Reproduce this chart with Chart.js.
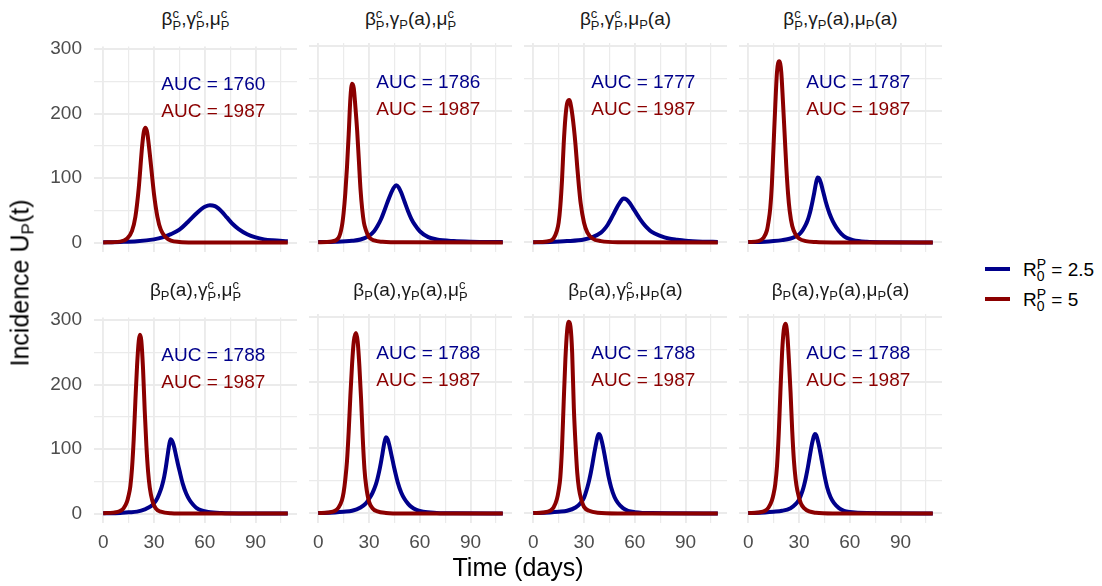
<!DOCTYPE html>
<html>
<head>
<meta charset="utf-8">
<script src="https://cdn.jsdelivr.net/npm/chart.js@4/dist/chart.umd.min.js"></script>
<style>
  body { margin: 0; background: #fff; width: 1102px; height: 586px; position: relative; overflow: hidden;
         font-family: "Liberation Sans", Arial, sans-serif; }
  canvas { position: absolute; }
  .strip { position: absolute; width: 203px; text-align: center; font-size: 19px; line-height: 22px; color: #1a1a1a; white-space: nowrap; }
  .ss { display: inline-block; font-size: 13px; line-height: 12px; vertical-align: -5px; text-align: left; }
  .sb { font-size: 13px; vertical-align: -4px; }
  .axt { position: absolute; font-size: 25px; color: #000; white-space: nowrap; }
  .sw { position: absolute; left: 985px; width: 25px; height: 4px; }
  .lg { position: absolute; left: 1023px; font-size: 19px; line-height: 22px; color: #000; white-space: nowrap; }
</style>
</head>
<body>
<div id="wrap"></div>
<script>
// facet titles: 'c' = constant parameter (sub P, sup c), 'a' = age dependent (sub P + (a))
const greek = ['β', 'γ', 'μ'];
const titleParts = [
  ['c','c','c'], ['c','a','c'], ['c','c','a'], ['c','a','a'],
  ['a','c','c'], ['a','a','c'], ['a','c','a'], ['a','a','a']
];
const aucBlue = [1760, 1786, 1777, 1787, 1788, 1788, 1788, 1788];
const aucRed  = [1987, 1987, 1987, 1987, 1987, 1987, 1987, 1987];

const xTicks = [0, 15, 30, 45, 60, 75, 90, 105];
const xLabels = [0, 30, 60, 90];
const yTicks = [0, 50, 100, 150, 200, 250, 300];
const yLabels = [0, 100, 200, 300];

// incidence curves, [day, value]
const blue1 = [[0,0.5],[10,1],[20,2],[30,5],[35,8],[40,13],[45,20],[50,32],[55,45],[58,52],[60,55.5],[63,58],[66,56.5],[68,53],[70,48],[73,39],[76,30],[80,21],[85,13],[90,8],[95,5],[100,3.5],[109,2]];
const red1  = [[0,0.3],[10,1.5],[14,6],[17,18],[19,40],[21,85],[23,150],[24,172],[25,178],[26,170],[28,125],[30,75],[32,40],[34,20],[37,8],[40,3],[45,1],[55,0.2],[70,0],[109,0]];
const blue2 = [[0,0.5],[10,1],[20,2.5],[25,4.5],[30,10],[33,17],[35,25],[37,35],[39,48],[41,62],[43,75],[44.5,83],[46,87],[47.5,84],[49,76],[51,62],[53,48],[55,36],[57,27],[60,17],[65,8],[70,4.5],[80,2],[90,1],[109,0.5]];
const red2  = [[0,0.3],[8,1.5],[12,7],[14,25],[15,45],[16,75],[17,115],[18,165],[19,220],[20,242],[21,235],[22,205],[23,170],[24,125],[25,80],[26,50],[27,30],[28,20],[30,8],[33,3],[38,1],[50,0.1],[109,0]];
const blue3 = [[0,0.3],[10,0.8],[20,2],[30,4.5],[35,8],[40,15],[42,20],[44,27],[46,36],[48,46],[50,56],[52,64],[53.3,67],[55,65.5],[57,60],[59,52],[61,44],[63,36],[65,29],[67,23],[70,16],[75,10],[80,6],[85,4],[90,2.5],[100,1.2],[109,0.8]];
const red3  = [[0,0.3],[8,1.5],[12,6],[14,18],[15,30],[16,55],[17,95],[18,150],[19,190],[20,212],[21.3,217],[22.5,205],[24,175],[25,148],[26,115],[27,85],[28,60],[30,30],[32,15],[35,6],[40,2],[50,0.3],[109,0]];
const blue4 = [[0,0.5],[10,1],[15,2],[20,3.5],[25,6],[28,9],[30,12],[32,18],[34,27],[35,33],[36,41],[37,51],[38,63],[39,76],[40,90],[41,99],[42,97],[43,90],[44,80],[45,70],[46,60],[48,44],[50,32],[52,23],[55,13],[58,7],[62,3.5],[70,1],[80,0.3],[109,0]];
const red4  = [[0,0.5],[6,2],[9,7],[11,18],[12,32],[13,52],[14,90],[15,150],[16,210],[17,260],[18.3,276],[19.5,260],[20.5,215],[21.5,165],[22.5,115],[23.5,75],[24.5,48],[26,25],[28,12],[30,6],[34,2],[40,0.5],[50,0],[109,0]];
const blue5 = [[0,0.5],[10,1],[15,2],[20,3],[25,7],[28,11],[30,16],[32,24],[34,37],[35,46],[36,57],[37,72],[38,90],[39,107],[39.8,115],[41,111],[42,102],[43,90],[44,78],[45,67],[47,46],[49,31],[51,21],[53,14],[55,9],[58,5],[62,2.5],[70,0.8],[80,0.2],[109,0]];
const red5  = [[0,0.5],[6,1.5],[10,4],[12,8],[14,18],[15,28],[16,42],[17,70],[18,115],[19,175],[20,230],[21,268],[21.7,277],[22.5,268],[23.5,225],[24.5,160],[25.5,105],[26.5,65],[27.5,40],[29,20],[31,8],[34,3],[40,0.5],[50,0],[109,0]];
const blue6 = [[0,0.5],[10,1.5],[15,2.5],[20,4],[25,9],[28,15],[30,22],[32,31],[34,44],[35,53],[36,64],[37,77],[38,92],[39,107],[40,116],[41,113],[42,104],[43,92],[44,80],[45,68],[47,47],[49,32],[51,22],[53,15],[55,10],[58,5.5],[62,2.5],[70,0.8],[80,0.2],[109,0]];
const red6  = [[0,0.5],[6,1.5],[10,4],[12,9],[14,20],[15,32],[16,52],[17,80],[18,125],[19,180],[20,228],[21,262],[22.3,275],[23.3,262],[24.3,225],[25.3,175],[26.3,115],[27.3,68],[28.3,42],[30,18],[32,8],[35,3],[40,0.8],[50,0],[109,0]];
const blue7 = [[0,0.5],[10,1.5],[15,2.5],[20,4],[25,9],[28,16],[30,24],[32,40],[33,50],[34,62],[35,76],[36,91],[37,105],[38,117],[38.7,121],[39.5,119],[40.5,110],[41.5,98],[42.5,84],[43.5,70],[44.5,56],[46,40],[48,25],[50,16],[53,8],[56,4],[60,2],[70,0.5],[109,0]];
const red7  = [[0,0.5],[6,1.5],[10,4],[12,9],[14,22],[15,35],[16,55],[17,100],[18,170],[19,235],[20,278],[21,292],[22,285],[23,245],[24,160],[25,105],[26,62],[27,38],[28.5,20],[30,10],[33,4],[38,1],[50,0],[109,0]];
const blue8 = [[0,0.5],[10,1.5],[15,2.5],[20,4],[25,8],[28,14],[30,21],[32,34],[33,43],[34,54],[35,67],[36,82],[37,97],[38,110],[39.3,121],[40.2,119],[41.2,110],[42.2,98],[43.2,84],[44.2,70],[45.2,56],[46.6,40],[48.6,25],[50.6,16],[53.6,8],[56.6,4],[60,2.2],[70,0.5],[109,0]];
const red8  = [[0,0.5],[6,1.5],[10,4],[12,9],[14,20],[15,30],[16,45],[17,72],[18,120],[19,185],[20,245],[21,280],[22,289],[23,275],[24,235],[25,185],[26,125],[27,80],[28,52],[29,35],[31,16],[33,8],[36,3],[40,1],[50,0],[109,0]];

const blueSeries = [blue1, blue2, blue3, blue4, blue5, blue6, blue7, blue8];
const redSeries  = [red1, red2, red3, red4, red5, red6, red7, red8];

const BLUE = '#00008B', RED = '#8B0000', GRID = '#EBEBEB';
const colLeft = [94, 309, 524, 739], rowTop = [43, 314];
const PW = 203, PH = 209, PADL = 60, PADT = 20, PADB = 40;

const wrap = document.getElementById('wrap');

function term(g, kind) {
  if (kind === 'c') return g + '<span class="ss">c<br>P</span>';
  return g + '<span class="sb">P</span>(a)';
}

const aucPlugin = {
  id: 'auc',
  afterDatasetsDraw(chart, args, opts) {
    const { ctx, scales: { x, y } } = chart;
    ctx.save();
    ctx.font = '19px "Liberation Sans", Arial, sans-serif';
    ctx.textAlign = 'center';
    ctx.textBaseline = 'middle';
    ctx.fillStyle = BLUE;
    ctx.fillText('AUC = ' + opts.blue, x.getPixelForValue(65), y.getPixelForValue(244));
    ctx.fillStyle = RED;
    ctx.fillText('AUC = ' + opts.red, x.getPixelForValue(65), y.getPixelForValue(202));
    ctx.restore();
  }
};

for (let i = 0; i < 8; i++) {
  const r = Math.floor(i / 4), c = i % 4;
  const left = colLeft[c], top = rowTop[r];

  const strip = document.createElement('div');
  strip.className = 'strip';
  strip.style.left = left + 'px';
  strip.style.top = (top - 35) + 'px';
  strip.innerHTML = titleParts[i].map((k, j) => term(greek[j], k)).join(',');
  wrap.appendChild(strip);

  const cv = document.createElement('canvas');
  cv.width = PADL + PW; cv.height = PADT + PH + PADB;
  cv.style.left = (left - PADL) + 'px';
  cv.style.top = (top - PADT) + 'px';
  wrap.appendChild(cv);

  new Chart(cv.getContext('2d'), {
    type: 'line',
    data: {
      datasets: [
        { data: redSeries[i].map(p => ({ x: p[0], y: p[1] })), borderColor: RED, order: 0 },
        { data: blueSeries[i].map(p => ({ x: p[0], y: p[1] })), borderColor: BLUE, order: 1 }
      ]
    },
    options: {
      responsive: false,
      animation: false,
      devicePixelRatio: 1,
      layout: { padding: { top: PADT, left: 0, right: 0, bottom: 0 } },
      elements: {
        line: { borderWidth: 4, cubicInterpolationMode: 'monotone', borderCapStyle: 'butt' },
        point: { radius: 0 }
      },
      plugins: { legend: { display: false }, tooltip: { enabled: false }, auc: { blue: aucBlue[i], red: aucRed[i] } },
      scales: {
        x: {
          type: 'linear', min: -5.45, max: 114.45,
          afterBuildTicks: s => { s.ticks = xTicks.map(v => ({ value: v })); },
          afterFit: s => { s.height = PADB; },
          border: { display: false },
          grid: { color: GRID, drawTicks: false, lineWidth: ctx => xLabels.includes(ctx.tick && ctx.tick.value) ? 1.9 : 1.2 },
          ticks: {
            display: r === 1, autoSkip: false, maxRotation: 0, padding: 8, color: '#4D4D4D',
            font: { size: 19, family: '"Liberation Sans", Arial, sans-serif' },
            callback: v => xLabels.includes(v) ? String(v) : ''
          }
        },
        y: {
          type: 'linear', min: -14.6, max: 304,
          afterBuildTicks: s => { s.ticks = yTicks.map(v => ({ value: v })); },
          afterFit: s => { s.width = PADL; },
          border: { display: false },
          grid: { color: GRID, drawTicks: false, lineWidth: ctx => yLabels.includes(ctx.tick && ctx.tick.value) ? 1.9 : 1.2 },
          ticks: {
            display: c === 0, autoSkip: false, padding: 12, color: '#4D4D4D',
            font: { size: 19, family: '"Liberation Sans", Arial, sans-serif' },
            callback: v => yLabels.includes(v) ? String(v) : ''
          }
        }
      }
    },
    plugins: [aucPlugin]
  });
}
</script>
<div class="axt" style="left:518px; top:553px; transform:translateX(-50%);">Time (days)</div>
<div class="axt" style="left:22px; top:283px; transform:translate(-50%,-50%) rotate(-90deg);">Incidence U<span style="font-size:17px; vertical-align:-5px;">P</span>(t)</div>
<div class="sw" style="top:267px; background:#00008B;"></div>
<div class="sw" style="top:297px; background:#8B0000;"></div>
<div class="lg" style="top:258px;">R<span class="ss" style="font-size:14px;">P<br>0</span> = 2.5</div>
<div class="lg" style="top:288px;">R<span class="ss" style="font-size:14px;">P<br>0</span> = 5</div>
</body>
</html>
